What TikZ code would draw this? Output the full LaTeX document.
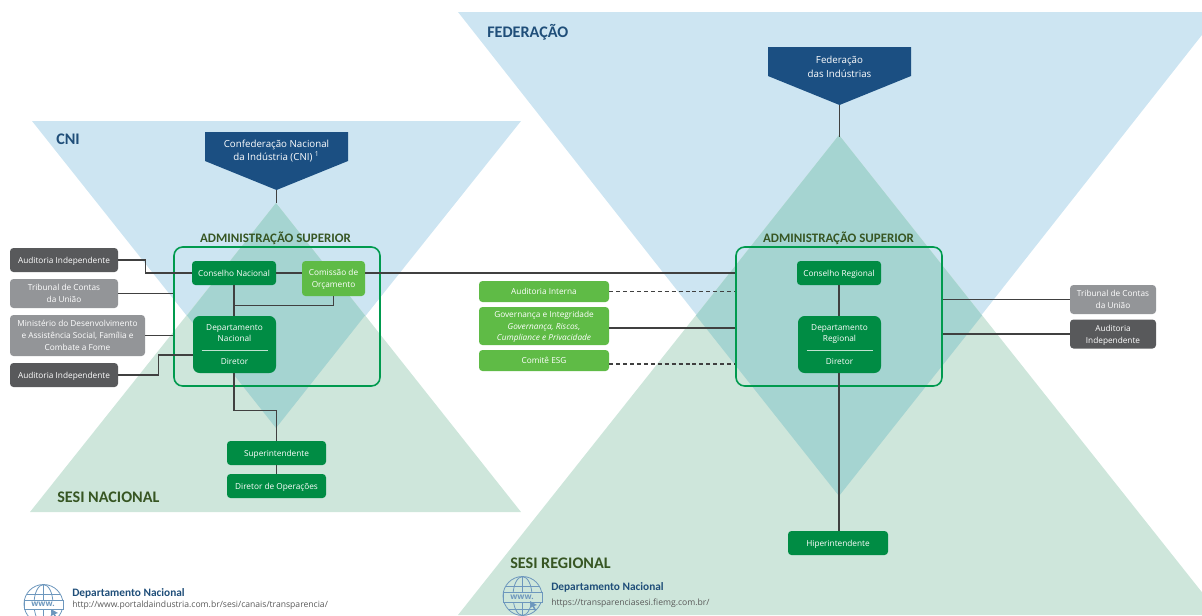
\documentclass[tikz,border=0pt]{standalone}
\usepackage{fontspec}
\setmainfont{Open Sans}
\newfontfamily\headfont{Carlito}
\usetikzlibrary{calc}
\definecolor{triblue}{HTML}{CDE5F2}
\definecolor{trigreen}{HTML}{CEE6DB}
\definecolor{overlap}{HTML}{A5D4D1}
\definecolor{navy}{HTML}{1B4F82}
\definecolor{headblue}{HTML}{1F4E79}
\definecolor{headgreen}{HTML}{375623}
\definecolor{dkgreen}{HTML}{008C44}
\definecolor{ltgreen}{HTML}{5FBB46}
\definecolor{outl}{HTML}{009A4E}
\definecolor{gr}{HTML}{939598}
\definecolor{dkgr}{HTML}{58595B}
\definecolor{wire}{HTML}{404040}
\definecolor{icon}{HTML}{6D97BD}
\definecolor{urlc}{HTML}{595959}
\tikzset{
  box/.style n args={2}{minimum width=#1*0.75pt,minimum height=#2*0.75pt,inner sep=0pt,align=center,text=white,font=\fontsize{6.2}{8.8}\selectfont,rounded corners=2.6pt,text depth=0pt},
  dk/.style={fill=dkgreen},
  lt/.style={fill=ltgreen},
  grey/.style={fill=gr},
  dgrey/.style={fill=dkgr},
  wirel/.style={draw=wire,line width=0.85pt},
  dashl/.style={draw=wire,line width=0.85pt,dash pattern=on 3pt off 2.2pt},
  adm/.style={draw=outl,line width=1.2pt,rounded corners=6.5pt,minimum width=206*0.75pt,minimum height=139*0.75pt,inner sep=0pt},
  head/.style={font=\headfont\bfseries\fontsize{9.7}{12}\selectfont,inner sep=0pt},
  bighead/.style={head,anchor=west,font=\headfont\bfseries\fontsize{12.1}{13}\selectfont},
  link/.style={anchor=west,inner sep=0pt,text=headblue,font=\headfont\bfseries\fontsize{8.5}{9}\selectfont},
  url/.style={anchor=west,inner sep=0pt,text=urlc,font=\fontsize{6.45}{8}\selectfont},
  glob/.style={draw=icon,line width=0.6pt},
  pent/.style={text=white,align=center,inner sep=0pt,font=\fontsize{7.3}{10.2}\selectfont},
  depf/.style={font=\fontsize{6.2}{8}\selectfont,rounded corners=5pt},
}
\newcommand{\seprule}{\textcolor{white!75!dkgreen}{\rule{49.5pt}{0.7pt}}}
\begin{document}
\begin{tikzpicture}[x=0.75pt,y=-0.75pt]
\useasboundingbox (0,0) rectangle (1202,615);
\clip (0,0) rectangle (1202,615);
% triangles
\fill[triblue] (32,121) -- (521,121) -- (276,428) -- cycle;
\fill[trigreen] (276,203) -- (521,512) -- (30,512) -- cycle;
\fill[overlap] (276,203) -- (365,315.5) -- (276,428) -- (187,315.5) -- cycle;
\fill[triblue] (458,12) -- (1220,12) -- (839,496) -- cycle;
\fill[trigreen] (839,135) -- (1220,615) -- (458,615) -- cycle;
\fill[overlap] (839,135) -- (982,315.5) -- (839,496) -- (696,315.5) -- cycle;
% headings
\node[bighead,text=headblue] (hcni) at (56,139) {CNI};
\node[bighead,text=headblue] (hfed) at (487,32) {FEDERAÇÃO};
\node[bighead,text=headgreen] (hsn) at (57,497) {SESI NACIONAL};
\node[bighead,text=headgreen] (hsr) at (510,563) {SESI REGIONAL};
\node[head,text=headgreen] (ha1) at (275.5,238) {ADMINISTRAÇÃO SUPERIOR};
\node[head,text=headgreen] (ha2) at (838.5,238) {ADMINISTRAÇÃO SUPERIOR};
% pentagons
\fill[navy] (205,132) -- (348,132) -- (348,161) -- (276.5,190) -- (205,161) -- cycle;
\node[pent] (cni) at (276.5,151) {Confederação Nacional\\da Indústria (CNI) \textsuperscript{1}};
\coordinate (cnitip) at (276.5,190);
\coordinate (cniapex) at (276.5,203);
\fill[navy] (768,47) -- (911,47) -- (911,76) -- (839.5,105) -- (768,76) -- cycle;
\node[pent] (fed) at (839.5,67) {Federação\\das Indústrias};
\coordinate (fedtip) at (839.5,105);
\coordinate (fedapex) at (839.5,137);
% admin frames
\node[adm] (f1) at (277,316.5) {};
\node[adm] (f2) at (839,316.5) {};
% left nodes
\node[box={108}{24},dgrey] (a1) at (64,260) {Auditoria Independente};
\node[box={108}{29},grey] (tcu1) at (64,293.5) {Tribunal de Contas\\da União};
\node[box={135}{41},grey] (mds) at (77.5,335.5) {Ministério do Desenvolvimento\\e Assistência Social, Família e\\Combate a Fome};
\node[box={108}{24},dgrey] (a2) at (64,375) {Auditoria Independente};
\node[box={84}{24},dk] (cn) at (234,273) {Conselho Nacional};
\node[box={63}{35},lt] (co) at (333.5,278.5) {Comissão de\\Orçamento};
\node[box={83}{57},dk,depf] (dn) at (234.5,344.5) {Departamento\\Nacional\\[-1pt]\seprule\\[2pt]Diretor};
\node[box={99}{24},dk] (su) at (276.5,453) {Superintendente};
\node[box={99}{24},dk] (di) at (276.5,486) {Diretor de Operações};
% middle nodes
\node[box={130}{21},lt] (ai) at (544,291.5) {Auditoria Interna};
\node[box={130}{38},lt] (gi) at (544,326) {Governança e Integridade\\\textit{Governança, Riscos,}\\\textit{Cumpliance e Privacidade}};
\node[box={130}{21},lt] (esg) at (544,360.5) {Comitê ESG};
% right nodes
\node[box={84}{24},dk] (cr) at (839,273) {Conselho Regional};
\node[box={83}{57},dk,depf] (dr) at (839.5,344.5) {Departamento\\Regional\\[-1pt]\seprule\\[2pt]Diretor};
\node[box={86}{29},grey] (tcu2) at (1113,299.5) {Tribunal de Contas\\da União};
\node[box={86}{29},dgrey] (a3) at (1113,334) {Auditoria\\Independente};
\node[box={100}{24},dk] (hi) at (838,543) {Hiperintendente};
% connectors
\draw[wirel] (cnitip) -- (cniapex);
\draw[wirel] (fedtip) -- (fedapex);
\draw[wirel] (a1.east) -- ++(27,0) |- (cn.west);
\draw[wirel] (tcu1.east) -- (tcu1.east -| f1.west);
\draw[wirel] (mds.east) -- (mds.east -| f1.west);
\draw[wirel] (a2.east) -- ++(40,0) |- ($(dn.west)+(0,10.5)$);
\draw[wirel] (cn.east) -- (cn.east -| co.west);
\draw[wirel] (cn.south) -- (cn.south |- dn.north);
\draw[wirel] ($(cn.south)+(0,20.5)$) -| (co.south);
\draw[wirel] (co.east |- cn.east) -- (co.east |- cn.east -| f2.west);
\draw[wirel] (dn.south -| cn.south) -- ++(0,37) -| (su.north);
\draw[wirel] (su.south) -- (di.north);
\draw[dashl] (ai.east) -- (ai.east -| f2.west);
\draw[wirel] (gi.east |- 0,328) -- (f2.west |- 0,328);
\draw[dashl] (esg.east |- 0,364) -- (f2.west |- 0,364);
\draw[wirel] (cr.south) -- (cr.south |- dr.north);
\draw[wirel] (dr.south -| cr.south) -- (hi.north -| cr.south);
\draw[wirel] (f2.east |- tcu2.west) -- (tcu2.west);
\draw[wirel] (f2.east |- a3.west) -- (a3.west);
% web links
\begin{scope}[glob]
  \draw (43.5,604) circle (19.5);
  \draw (43.5,584.5) -- (43.5,623.5);
  \draw (43.5,604) ellipse (9.5 and 19.5);
  \draw (27,594) -- (60,594);
  \fill[white] (24,600) rectangle (63,609);
  \draw (24,600) rectangle (63,609);
  \draw (522.5,596) circle (19.5);
  \draw (522.5,576.5) -- (522.5,615.5);
  \draw (522.5,596) ellipse (9.5 and 19.5);
  \draw (506,586) -- (539,586);
  \draw (509,609) -- (536,609);
  \fill[trigreen] (503,592) rectangle (542,602);
  \draw (503,592) rectangle (542,602);
  \fill[icon] (530,601) -- (537,605) -- (534,606) -- (536,610) -- (534.5,610.5) -- (532.5,606.5) -- (530.5,608) -- cycle;
\end{scope}
\node[inner sep=0pt,text=icon,font=\bfseries\fontsize{6.2}{7}\selectfont] (w1) at (43,604.5) {www.};
\node[inner sep=0pt,text=icon,font=\bfseries\fontsize{6.2}{7}\selectfont] (w2) at (522,597) {www.};
\fill[icon] (51,609) -- (58,613) -- (55,614) -- (57,618) -- (55.5,618.5) -- (53.5,614.5) -- (51.5,616) -- cycle;
\node[link] (l1) at (72,593) {Departamento Nacional};
\node[url] (u1) at (72,605) {http://www.portaldaindustria.com.br/sesi/canais/transparencia/};
\node[link] (l2) at (551,587.5) {Departamento Nacional};
\node[url] (u2) at (551,603) {https://transparenciasesi.fiemg.com.br/};
\end{tikzpicture}
\end{document}
